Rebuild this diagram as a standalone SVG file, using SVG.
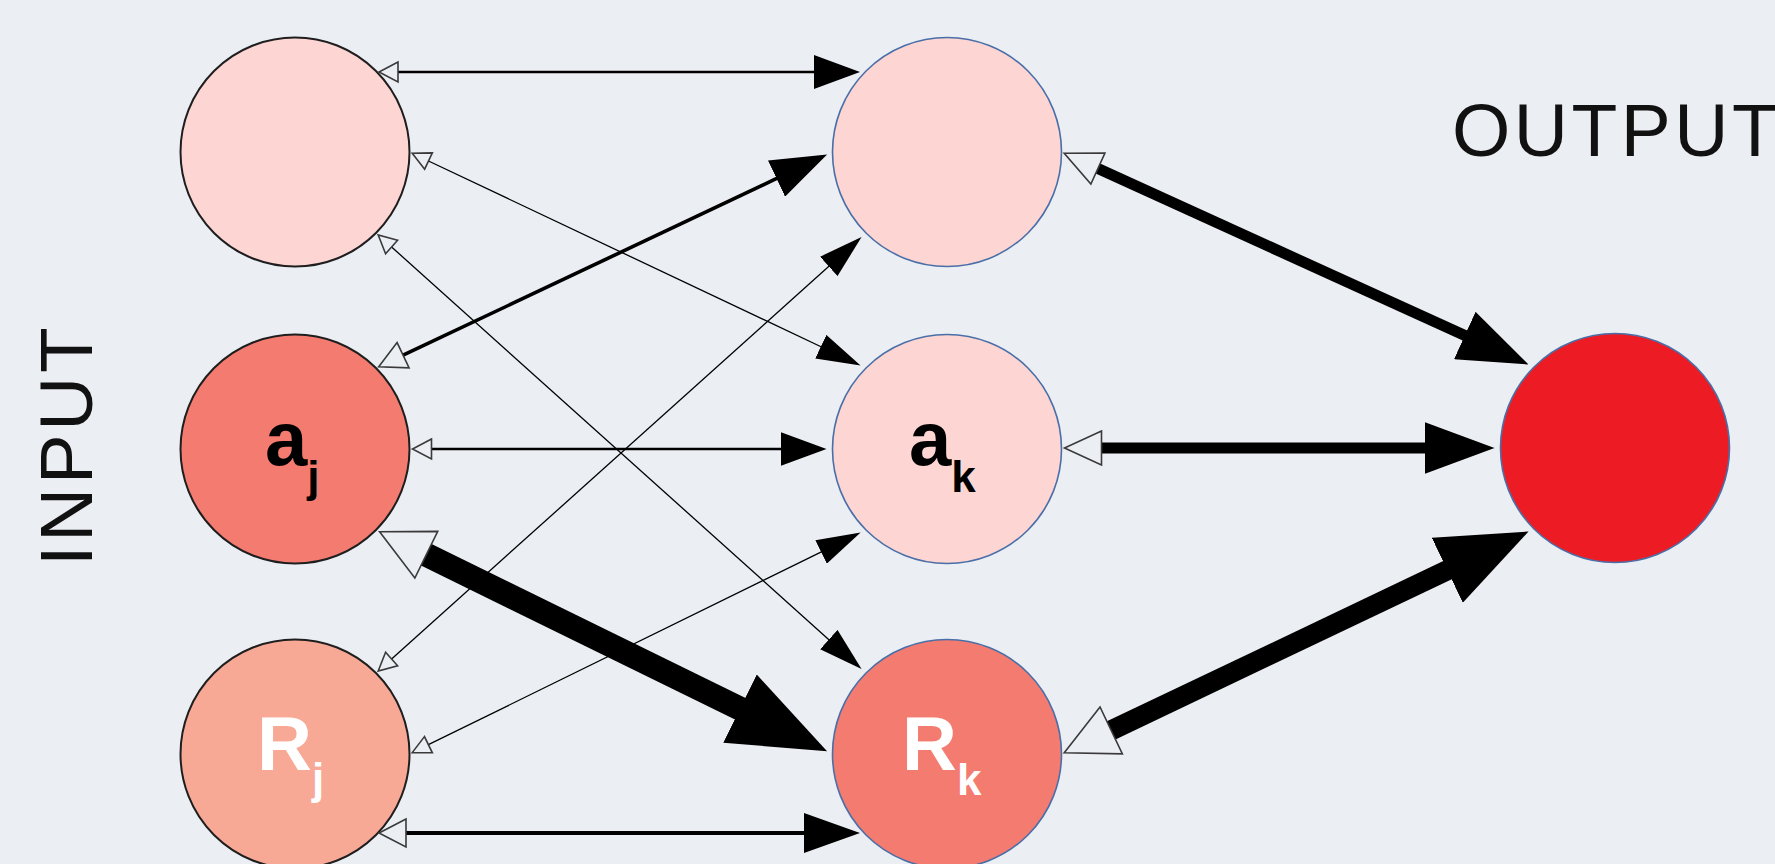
<svg xmlns="http://www.w3.org/2000/svg" width="1775" height="864" viewBox="0 0 1775 864">
  <style>
    .bg { fill: #EBEEF3; }
    .nIn { stroke: #1E1E1E; stroke-width: 2; }
    .nOut { stroke: #4A6FA8; stroke-width: 1.6; }
    .pale { fill: #FDD5D2; }
    .salmon { fill: #F47B6F; }
    .peach { fill: #F8A996; }
    .red { fill: #ED1C24; }
    .lbl { font-family: "Liberation Sans", Arial, sans-serif; font-weight: bold; font-size: 76px; }
    .sub { font-size: 44px; }
    .io { font-family: "Liberation Sans", Arial, sans-serif; font-size: 75px; fill: #111; letter-spacing: 3.5px; }
    .edge { stroke: #000; fill: none; stroke-linecap: butt; }
    .head { fill: #000; }
    .hollow { fill: #EBEEF3; stroke: #3A3A3A; stroke-width: 1.6; stroke-linejoin: miter; }
  </style>
  <defs>
    <!-- filled heads: base at x=0, tip at x=L; line end sits 2px inside the base -->
    <marker id="fT" markerUnits="userSpaceOnUse" orient="auto" viewBox="0 -13 44 26" markerWidth="44" markerHeight="26" refX="2" refY="0"><path class="head" d="M0,-13 L44,0 L0,13 Z"/></marker>
    <marker id="fS" markerUnits="userSpaceOnUse" orient="auto" viewBox="0 -17 46 34" markerWidth="46" markerHeight="34" refX="2" refY="0"><path class="head" d="M0,-17 L46,0 L0,17 Z"/></marker>
    <marker id="fM" markerUnits="userSpaceOnUse" orient="auto" viewBox="0 -20 56 40" markerWidth="56" markerHeight="40" refX="2" refY="0"><path class="head" d="M0,-20 L56,0 L0,20 Z"/></marker>
    <marker id="fH" markerUnits="userSpaceOnUse" orient="auto" viewBox="0 -26 70 52" markerWidth="70" markerHeight="52" refX="2" refY="0"><path class="head" d="M0,-26 L70,0 L0,26 Z"/></marker>
    <marker id="fX" markerUnits="userSpaceOnUse" orient="auto" viewBox="0 -36 90 72" markerWidth="90" markerHeight="72" refX="2" refY="0"><path class="head" d="M0,-36 L90,0 L0,36 Z"/></marker>
    <marker id="fXX" markerUnits="userSpaceOnUse" orient="auto" viewBox="0 -38 97 76" markerWidth="97" markerHeight="76" refX="2" refY="0"><path class="head" d="M0,-38 L97,0 L0,38 Z"/></marker>
    <!-- hollow heads at the line start, pointing back to the source node -->
    <marker id="oT" markerUnits="userSpaceOnUse" orient="auto" viewBox="-21 -12 24 24" markerWidth="24" markerHeight="24" refX="0" refY="0"><path class="hollow" d="M0,-9 L-18,0 L0,9 Z"/></marker>
    <marker id="oS" markerUnits="userSpaceOnUse" orient="auto" viewBox="-22 -13 25 26" markerWidth="25" markerHeight="26" refX="0" refY="0"><path class="hollow" d="M0,-10 L-19,0 L0,10 Z"/></marker>
    <marker id="oM" markerUnits="userSpaceOnUse" orient="auto" viewBox="-30 -17 33 34" markerWidth="33" markerHeight="34" refX="0" refY="0"><path class="hollow" d="M0,-14 L-27,0 L0,14 Z"/></marker>
    <marker id="oH" markerUnits="userSpaceOnUse" orient="auto" viewBox="-40 -20 43 40" markerWidth="43" markerHeight="40" refX="0" refY="0"><path class="hollow" d="M0,-17 L-37,0 L0,17 Z"/></marker>
    <marker id="oX" markerUnits="userSpaceOnUse" orient="auto" viewBox="-56 -30 59 60" markerWidth="59" markerHeight="60" refX="0" refY="0"><path class="hollow" d="M0,-26 L-52,0 L0,26 Z"/></marker>
  </defs>

  <rect class="bg" x="0" y="0" width="1775" height="864"/>

  <!-- input layer -->
  <g id="node-in-top"><circle class="nIn pale" cx="295" cy="152" r="114.5"/></g>
  <g id="node-aj">
    <circle class="nIn salmon" cx="295" cy="449" r="114.5"/>
    <text class="lbl" x="265" y="465" fill="#000">a<tspan class="sub" dy="27">j</tspan></text>
  </g>
  <g id="node-Rj">
    <circle class="nIn peach" cx="295" cy="754" r="114.5"/>
    <text class="lbl" x="257" y="770" fill="#FFF">R<tspan class="sub" dy="24">j</tspan></text>
  </g>

  <!-- hidden layer -->
  <g id="node-mid-top"><circle class="nOut pale" cx="947" cy="152" r="114.5"/></g>
  <g id="node-ak">
    <circle class="nOut pale" cx="947" cy="449" r="114.5"/>
    <text class="lbl" x="909" y="465" fill="#000">a<tspan class="sub" dy="27">k</tspan></text>
  </g>
  <g id="node-Rk">
    <circle class="nOut salmon" cx="947" cy="754" r="114.5"/>
    <text class="lbl" x="902" y="770" fill="#FFF">R<tspan class="sub" dy="25">k</tspan></text>
  </g>

  <!-- output unit -->
  <g id="node-output"><circle class="nOut red" cx="1615" cy="448" r="114.5"/></g>

  <g id="label-input"><text class="io" text-anchor="middle" transform="translate(92,445) rotate(-90)">INPUT</text></g>
  <g id="label-output"><text class="io" x="1452" y="156">OUTPUT</text></g>

  <g id="connectors">
    <line class="edge" stroke-width="2.6" x1="398" y1="72" x2="816" y2="72" marker-start="url(#oS)" marker-end="url(#fS)"/>
    <line class="edge" stroke-width="1.3" x1="428.5" y1="161" x2="822.6" y2="347.5" marker-start="url(#oT)" marker-end="url(#fT)"/>
    <line class="edge" stroke-width="1.3" x1="391.6" y1="247" x2="830.3" y2="640.9" marker-start="url(#oT)" marker-end="url(#fT)"/>
    <line class="edge" stroke-width="3.6" x1="403.1" y1="355.2" x2="778.3" y2="177.7" marker-start="url(#oM)" marker-end="url(#fM)"/>
    <line class="edge" stroke-width="2.6" x1="431.5" y1="449" x2="782.5" y2="449" marker-start="url(#oS)" marker-end="url(#fS)"/>
    <line class="edge" stroke-width="24" x1="426.3" y1="554.7" x2="741.8" y2="709.5" marker-start="url(#oX)" marker-end="url(#fXX)"/>
    <line class="edge" stroke-width="1.3" x1="391.6" y1="659" x2="830.3" y2="265.1" marker-start="url(#oT)" marker-end="url(#fT)"/>
    <line class="edge" stroke-width="1.3" x1="428.4" y1="744.7" x2="822.9" y2="551.1" marker-start="url(#oT)" marker-end="url(#fT)"/>
    <line class="edge" stroke-width="3.8" x1="406" y1="833" x2="806" y2="833" marker-start="url(#oM)" marker-end="url(#fM)"/>
    <line class="edge" stroke-width="11" x1="1097.9" y1="168.6" x2="1466.6" y2="336.3" marker-start="url(#oH)" marker-end="url(#fH)"/>
    <line class="edge" stroke-width="11" x1="1101.5" y1="448" x2="1426.5" y2="448" marker-start="url(#oH)" marker-end="url(#fH)"/>
    <line class="edge" stroke-width="20" x1="1111.2" y1="730.4" x2="1449.1" y2="569.4" marker-start="url(#oX)" marker-end="url(#fX)"/>
  </g>
</svg>
